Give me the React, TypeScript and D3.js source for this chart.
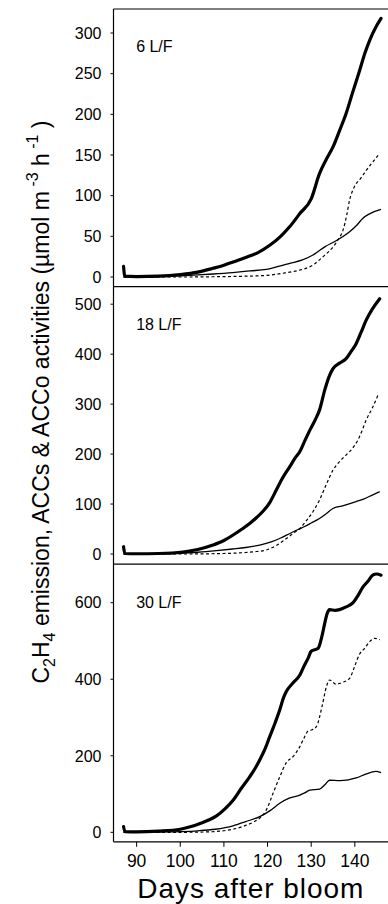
import React from "react";
import * as d3 from "d3";

type Pt = [number, number];

const xTicks = [90, 100, 110, 120, 130, 140];
const xLabel = "Days after bloom";

const panelLabels = ["6 L/F", "18 L/F", "30 L/F"];
const yTicks6 = [0, 50, 100, 150, 200, 250, 300];
const yTicks18 = [0, 100, 200, 300, 400, 500];
const yTicks30 = [0, 200, 400, 600];

// 6 L/F
const c2h4_6: Pt[] = [[87.0, 13], [87.3, 1], [90, 0.5], [95, 1], [100, 3], [104, 6], [107.5, 10.7], [110, 14.5], [112.1, 18.5], [115, 24], [117.8, 30], [120.5, 39], [123, 50], [125.1, 62], [127.4, 78], [130, 96], [131.9, 127], [133.5, 145], [135, 160], [136.5, 180], [138, 201], [139.5, 227], [141.1, 254], [142.3, 275], [143.4, 291], [144.8, 307], [146, 318]];
const accs_6: Pt[] = [[87, 0], [100, 0], [110, 0.5], [115, 1], [119.7, 2], [124, 5], [127, 8], [130.4, 14.7], [132.5, 24], [135, 37], [136.3, 47], [137.3, 57.7], [138.1, 75], [138.8, 94.6], [139.9, 111], [141.3, 121], [142.6, 131], [144.2, 142], [145.7, 152]];
const acco_6: Pt[] = [[87, 0], [95, 0.5], [100, 1.5], [104, 2.5], [107.5, 3.7], [112, 5.5], [116, 7.5], [119.7, 9.4], [122.5, 13], [125.1, 16.8], [128, 21], [130.4, 27], [131.5, 31], [133.1, 37], [135.7, 44.6], [138.8, 55.7], [140.5, 64], [141.8, 72], [143.5, 78], [146, 83]];

// 18 L/F
const c2h4_18: Pt[] = [[87, 14.6], [87.3, 1], [90, 0.5], [95, 1], [100.6, 4], [104, 9], [107.5, 18], [110, 27], [112.1, 38], [114, 49], [115.9, 61], [117.5, 73], [118.9, 85], [120.5, 103], [122, 128], [123.5, 153], [125.1, 175], [126.3, 192], [127.4, 205], [128.5, 226], [129.7, 248], [131, 270], [131.9, 288], [133.1, 328], [134.1, 355], [135, 371], [136.5, 382], [138, 391], [139.2, 406], [140.3, 421], [141.4, 443], [142.6, 468], [144, 490], [145.7, 511]];
const accs_18: Pt[] = [[87, 0], [100, 0], [110, 1], [115, 3], [117.5, 5], [119.7, 8], [122, 17], [124.3, 31], [126, 42], [127.4, 51], [129, 68], [130.5, 86], [131.9, 108], [133.5, 140], [135, 168], [136.5, 185], [138, 198], [139.5, 212], [140.7, 228], [141.7, 248], [142.6, 268], [144, 292], [145.3, 318]];
const acco_18: Pt[] = [[87, 0], [95, 0.5], [100, 1.5], [104, 3.5], [108.3, 6.7], [112, 10], [115, 13], [118.2, 18], [121, 25], [123, 32], [125.1, 41], [127, 49], [128.5, 55], [130, 62], [131.9, 71], [133.5, 81], [135, 91], [137, 96], [138.5, 100], [140.3, 105], [142, 110], [144, 118], [145.7, 125]];

// 30 L/F
const c2h4_30: Pt[] = [[87, 15], [87.3, 2], [90, 1], [95, 3], [100, 8], [102.5, 15], [104.5, 23], [106.5, 32], [108.3, 43], [110.3, 62], [112.1, 84], [114, 115], [115.9, 145], [117.2, 168], [118.2, 189], [119.5, 220], [120.5, 250], [121.7, 285], [122.8, 320], [123.6, 350], [124.3, 368], [125.8, 390], [127.4, 411], [128.3, 433], [129.3, 455], [130, 473], [131.6, 481], [132.3, 505], [133.1, 546], [133.6, 570], [134.2, 582], [135.5, 580], [136.5, 582], [138, 589], [139.6, 600], [140.8, 620], [141.8, 640], [143, 656], [144.1, 672], [145, 675], [146, 672]];
const accs_30: Pt[] = [[87, 0], [100, 0], [106, 1], [109, 3], [112.1, 8], [115, 18], [117, 28], [118.2, 37], [119.7, 58], [121.2, 100], [122.8, 145], [124.3, 182], [126, 200], [127.4, 224], [128.3, 245], [129.3, 265], [130.2, 268], [131.2, 276], [132.5, 330], [133.5, 381], [134.2, 398], [135.7, 387], [137.2, 392], [138.8, 402], [140, 435], [141.1, 466], [142.2, 480], [143.4, 498], [144.5, 507], [145.7, 503]];
const acco_30: Pt[] = [[87, 0], [95, 1], [100, 2], [104, 4], [108, 8], [112.1, 17], [115, 28], [118.2, 41], [120.5, 56], [122.8, 76], [125.1, 90], [127.4, 97], [128.5, 103], [129.7, 110], [131.9, 113], [133.2, 125], [134.2, 136], [136.5, 135], [138.5, 137], [140.3, 142], [142.5, 152], [144.8, 159], [146, 156]];

const W = 388;
const H = 904;
const left = 113.5;
const right = 388;
const panelTop = 9;
const panelH = 277.6;
const font = "'Liberation Sans', Arial, Helvetica, sans-serif";

const panels = [
  { label: panelLabels[0], domain: [-11.8, 329.5], ticks: yTicks6, c2h4: c2h4_6, accs: accs_6, acco: acco_6, labelDy: 43 },
  { label: panelLabels[1], domain: [-20.4, 535.2], ticks: yTicks18, c2h4: c2h4_18, accs: accs_18, acco: acco_18, labelDy: 43.5 },
  { label: panelLabels[2], domain: [-24.8, 700.6], ticks: yTicks30, c2h4: c2h4_30, accs: accs_30, acco: acco_30, labelDy: 44 },
];

export default function App() {
  const x = d3.scaleLinear().domain([84.7, 147.6]).range([left, right]);
  const bottom = panelTop + panelH * 3;

  return (
    <svg width={W} height={H} style={{ position: "absolute", left: 0, top: 0, background: "#fff" }} fontFamily={font}>
      <rect x={0} y={0} width={W} height={H} fill="#fff" />
      {panels.map((p, i) => {
        const y0 = panelTop + panelH * i;
        const y = d3.scaleLinear().domain(p.domain).range([y0 + panelH, y0]);
        const line = d3
          .line<Pt>()
          .x((d) => x(d[0]))
          .y((d) => y(d[1]))
          .curve(d3.curveMonotoneX);
        return (
          <g key={i}>
            <line x1={left} x2={right} y1={y0} y2={y0} stroke="#000" strokeWidth={1.2} />
            {p.ticks.map((t) => (
              <g key={t}>
                <line x1={left - 3} x2={left} y1={y(t)} y2={y(t)} stroke="#000" strokeWidth={1} />
                <text x={left - 12} y={y(t)} dy="0.36em" textAnchor="end" fontSize={16} fill="#000">
                  {t}
                </text>
              </g>
            ))}
            <text x={x(90)} y={y0 + p.labelDy} fontSize={16} fill="#000" dx={-0.5}>
              {p.label}
            </text>
            <path d={line(p.acco) || ""} fill="none" stroke="#000" strokeWidth={1.3} strokeLinejoin="round" />
            <path d={line(p.accs) || ""} fill="none" stroke="#000" strokeWidth={1.2} strokeDasharray="3,2.5" />
            <path d={line(p.c2h4) || ""} fill="none" stroke="#000" strokeWidth={3.2} strokeLinejoin="round" strokeLinecap="round" />
          </g>
        );
      })}
      <line x1={left} x2={left} y1={panelTop} y2={bottom} stroke="#000" strokeWidth={1.2} />
      <line x1={left} x2={right} y1={bottom} y2={bottom} stroke="#000" strokeWidth={1.2} />
      {xTicks.map((t) => (
        <g key={t}>
          <line x1={x(t)} x2={x(t)} y1={bottom} y2={bottom + 5} stroke="#000" strokeWidth={1} />
          <text x={x(t)} y={bottom + 25} textAnchor="middle" fontSize={17.5} fill="#000">
            {t}
          </text>
        </g>
      ))}
      <text x={250.3} y={898} textAnchor="middle" fontSize={28} textLength={226} lengthAdjust="spacing" fill="#000">
        {xLabel}
      </text>
      <text transform="translate(49,402) rotate(-90)" textAnchor="middle" fontSize={23} fill="#000">
        C<tspan fontSize={16} dy={6}>2</tspan>
        <tspan dy={-6}>H</tspan>
        <tspan fontSize={16} dy={6}>4</tspan>
        <tspan dy={-6}> emission, ACCs &amp; ACCo activities (µmol m</tspan>
        <tspan fontSize={16} dy={-11}> -3</tspan>
        <tspan dy={11}> h</tspan>
        <tspan fontSize={16} dy={-11}> -1</tspan>
        <tspan dy={11}> )</tspan>
      </text>
    </svg>
  );
}
